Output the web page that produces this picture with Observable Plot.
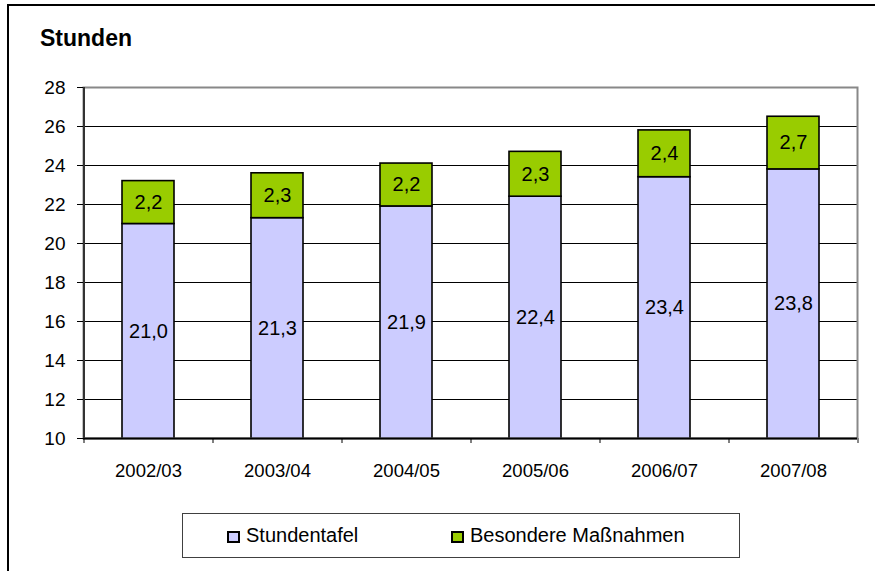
<!DOCTYPE html>
<html><head><meta charset="utf-8">
<script src="https://cdn.jsdelivr.net/npm/d3@7"></script>
<script src="https://cdn.jsdelivr.net/npm/@observablehq/plot@0.6"></script>
<style>
html,body{margin:0;padding:0;background:#fff;overflow:hidden}
#page{position:relative;width:875px;height:571px;overflow:hidden;font-family:"Liberation Sans",Arial,sans-serif;color:#000}
#border{position:absolute;left:7px;top:4px;width:900px;height:600px;border-left:2px solid #000;border-top:2px solid #000;pointer-events:none}
#title{position:absolute;left:40px;top:27px;font-size:23px;font-weight:bold;line-height:1;white-space:nowrap}
#chart{position:absolute;left:0;top:60px}
#legend{position:absolute;left:182px;top:513px;width:558px;height:45px;border:1px solid #404040;box-sizing:border-box;background:#fff}
.sw{position:absolute;top:17px;width:13px;height:12px;border:2px solid #000;box-sizing:border-box}
.lt{position:absolute;top:11px;font-size:20px;line-height:1;white-space:nowrap}
</style></head>
<body>
<div id="page">
  <div id="border"></div>
  <div id="title">Stunden</div>
  <div id="chart"></div>
  <div id="legend"></div>
</div>
<script>
const years = ["2002/03","2003/04","2004/05","2005/06","2006/07","2007/08"];
const stundentafel = [21.0, 21.3, 21.9, 22.4, 23.4, 23.8];
const besondere = [2.2, 2.3, 2.2, 2.3, 2.4, 2.7];
const yTicks = [10, 12, 14, 16, 18, 20, 22, 24, 26, 28];
const seriesNames = ["Stundentafel", "Besondere Maßnahmen"];
const seriesColors = ["#ccccff", "#99cc00"];

const fmt = v => v.toFixed(1).replace(".", ",");
const yMin = yTicks[0], yMax = yTicks[yTicks.length - 1];

const rows = years.flatMap((year, i) => [
  {year, series: seriesNames[0], lo: 0, hi: stundentafel[i], value: stundentafel[i], mid: (yMin + stundentafel[i]) / 2},
  {year, series: seriesNames[1], lo: stundentafel[i], hi: stundentafel[i] + besondere[i], value: besondere[i], mid: stundentafel[i] + besondere[i] / 2}
]);

const W = 875, mL = 83, mR = 18;
const half = (W - mL - mR) / years.length / 2;

const chart = Plot.plot({
  width: W, height: 445,
  marginLeft: mL, marginRight: mR, marginTop: 27, marginBottom: 67,
  style: {fontFamily: '"Liberation Sans", Arial, sans-serif', background: "transparent", color: "#000"},
  x: {domain: years, paddingInner: 0.6, paddingOuter: 0.3, axis: null, label: null},
  y: {domain: [yMin, yMax], axis: null, label: null},
  color: {domain: seriesNames, range: seriesColors},
  marks: [
    Plot.ruleY(yTicks.filter(t => t > yMin && t < yMax), {stroke: "#000", strokeWidth: 1}),
    Plot.barY(rows, {x: "year", y1: "lo", y2: "hi", fill: "series", stroke: "#000", strokeWidth: 1.6, clip: true}),
    Plot.text(rows, {x: "year", y: "mid", text: d => fmt(d.value), fontSize: 20, fill: "#000"}),
    Plot.frame({stroke: "#888888", strokeWidth: 2}),
    Plot.ruleY([yMin], {stroke: "#000", strokeWidth: 2}),
    Plot.ruleX([years[0]], {y1: yMin, y2: yMax, dx: -half, stroke: "#333", strokeWidth: 2}),
    Plot.axisY({ticks: yTicks, tickSize: 6, tickPadding: 12, fontSize: 19, tickFormat: d => d, label: null}),
    Plot.axisX({tickSize: 5, text: null, dx: -half, stroke: "#000", label: null}),
    Plot.axisX({ticks: [years[years.length - 1]], tickSize: 5, text: null, dx: half, stroke: "#888888", strokeWidth: 2, label: null}),
    Plot.axisX({tickSize: 0, tickPadding: 25, fontSize: 18.5, label: null})
  ]
});
document.getElementById("chart").appendChild(chart);

const legend = document.getElementById("legend");
const swLeft = [44, 268], txtLeft = [63, 287];
seriesNames.forEach((name, i) => {
  const sw = document.createElement("div");
  sw.className = "sw"; sw.style.left = swLeft[i] + "px"; sw.style.background = seriesColors[i];
  const t = document.createElement("div");
  t.className = "lt"; t.style.left = txtLeft[i] + "px"; t.textContent = name;
  legend.appendChild(sw); legend.appendChild(t);
});
</script>
</body></html>
